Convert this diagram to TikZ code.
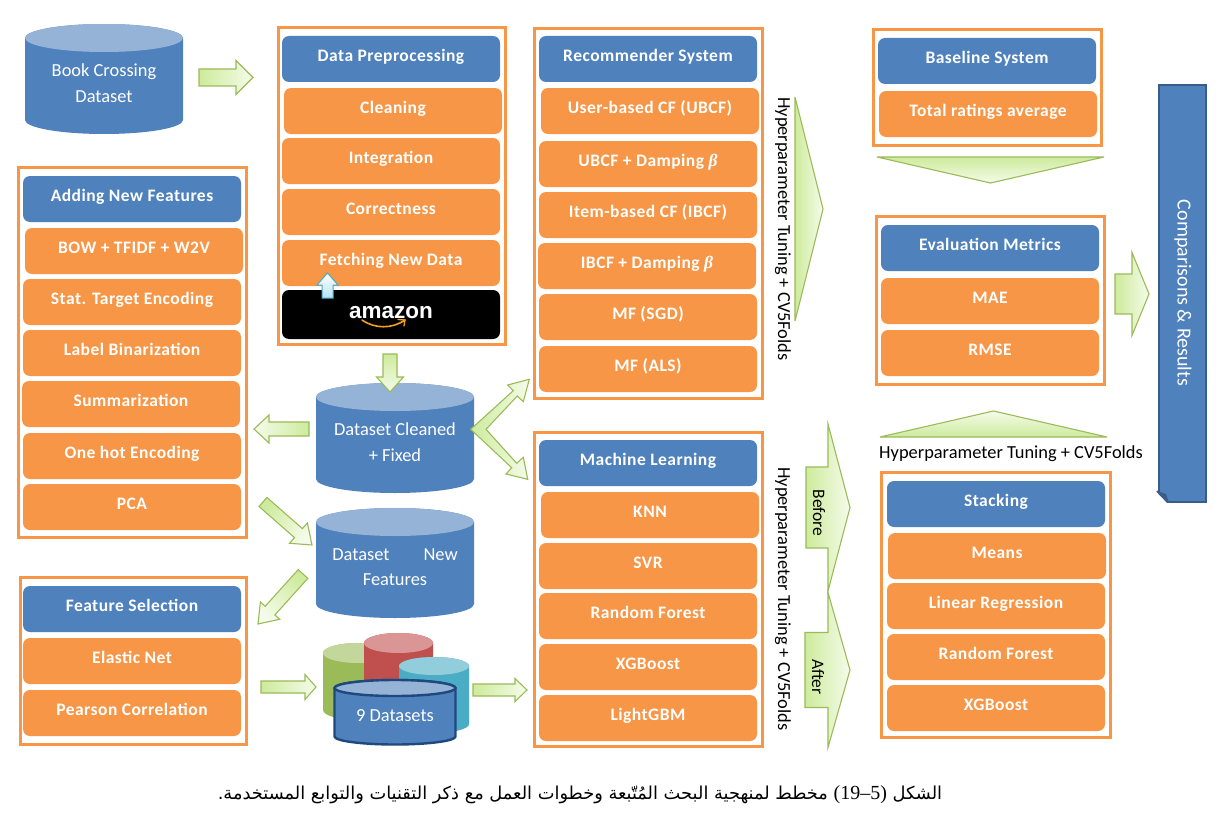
\documentclass[tikz,border=0pt]{standalone}
\usepackage{fontspec}
\usetikzlibrary{calc}
\setmainfont[BoldFeatures={LetterSpace=2.7}]{Carlito}
\newfontfamily\arabicfont[Script=Arabic]{DejaVu Sans}
\newfontfamily\latincap{Liberation Serif}
\newfontfamily\logofont{Liberation Sans}
\newfontfamily\betafont{Liberation Serif}
\TeXXeTstate=1
\definecolor{hd}{HTML}{4F81BD}
\definecolor{it}{HTML}{F79646}
\definecolor{gstroke}{HTML}{9BBB59}
\definecolor{ga}{HTML}{CDEB9C}
\definecolor{gb}{HTML}{F5FBEA}
\definecolor{cyltop}{HTML}{95B3D7}
\definecolor{gbody}{HTML}{9BBB59}
\definecolor{gtop}{HTML}{C3D69B}
\definecolor{rbody}{HTML}{C0504D}
\definecolor{rtop}{HTML}{D99694}
\definecolor{tbody}{HTML}{4BACC6}
\definecolor{ttop}{HTML}{92CDDC}
\definecolor{navy}{HTML}{1F497D}
\definecolor{compline}{HTML}{385D8A}
\definecolor{smile}{HTML}{F5A11C}
\definecolor{upfill}{HTML}{B7E3F0}
\newcommand\bet{{\betafont\bfseries\itshape β}}
\tikzset{
  x=1pt,y=-1pt,
  framebox/.style={draw=it,line width=3pt,fill=white,anchor=north west,inner sep=0pt,outer sep=0pt},
  cardbase/.style={anchor=north west,minimum width=218pt,minimum height=46pt,rounded corners=7pt,
     inner sep=0pt,outer sep=0pt,text=white,font=\bfseries\fontsize{17.5}{18}\selectfont,
     text height=10pt,text depth=5pt},
  headcard/.style={cardbase,fill=hd},
  itemcard/.style={cardbase,fill=it},
  barrow/.style={draw=gstroke,line width=1.1pt,line join=miter,miter limit=8},
  vtext/.style={rotate=-90,font=\fontsize{18.4}{20}\selectfont,inner sep=0pt,text=black},
  cyltext/.style={inner sep=0pt,text=white,align=center,font=\fontsize{18.4}{25.5}\selectfont},
}
% from, to, shaft width, head width, head length
\newcommand\blockarrow[5]{%
  \path let \p1=(#1),\p2=(#2),\n1={atan2(\y2-\y1,\x2-\x1)},\n2={veclen(\x2-\x1,\y2-\y1)} in
    \pgfextra{\pgfmathsetmacro\tmpa{\n1}\pgfmathsetmacro\tmpl{\n2}\global\let\arA\tmpa\global\let\arL\tmpl};
  \pgfmathsetmacro\arB{\arL-#5}
  \pgfmathsetmacro\arAng{\arA+90}
  \begin{scope}[shift={(#1)},rotate=\arA]
    \draw[barrow,top color=ga,bottom color=gb,shading angle=\arAng]
      (0,#3/2)--(\arB,#3/2)--(\arB,#4/2)--(\arL,0)--(\arB,-#4/2)--(\arB,-#3/2)--(0,-#3/2)--cycle;
  \end{scope}}
\newcommand\frm[5]{%
  \pgfmathsetmacro\fw{#4-#2-3}\pgfmathsetmacro\fh{#5-#3-3}\pgfmathsetmacro\fx{#2+1.5}\pgfmathsetmacro\fy{#3+1.5}
  \node[framebox,minimum width=\fw pt,minimum height=\fh pt] (#1) at (\fx,\fy) {};}
% x1,x2,ytop,ybot,ry,bodycolor,topcolor,draw options
\newcommand\cyl[8]{%
  \pgfmathsetmacro\cR{(#2-#1)/2}\pgfmathsetmacro\cc{(#1+#2)/2}\pgfmathsetmacro\cu{#3+#5}\pgfmathsetmacro\cl{#4-#5}
  \path[fill=#6,#8] (#1,\cu) -- (#1,\cl) arc[start angle=180,end angle=360,x radius=\cR pt,y radius=#5pt]
     -- (#2,\cu) arc[start angle=0,end angle=180,x radius=\cR pt,y radius=#5pt] -- cycle;
  \path[fill=#7,#8] (\cc,\cu) ellipse[x radius=\cR pt,y radius=#5pt];}
\begin{document}
\begin{tikzpicture}
\useasboundingbox (0,0) rectangle (1221,816);
\fill[white] (0,0) rectangle (1221,816);

% Book crossing
\cyl{25}{183}{24}{134}{14}{hd}{cyltop}{}
\node[cyltext] (book) at (104,83) {Book Crossing\\Dataset};

% Data preprocessing
\frm{fprep}{277}{26}{507}{346}
\node[headcard] (prep) at (282,36) {Data Preprocessing};
\node[itemcard] (clean) at (284,88) {Cleaning};
\node[itemcard] (integ) at (282,138) {Integration};
\node[itemcard] (corr) at (282,189) {Correctness};
\node[itemcard] (fetch) at (282,240) {Fetching New Data};
\node[cardbase,fill=black,minimum height=49pt,text height=10pt,text depth=3pt,font=\logofont\bfseries\fontsize{22.5}{26}\selectfont] (amz) at (282,290) {amazon};
\coordinate (sm1) at (362,320);\coordinate (sm2) at (405,320);\coordinate (sm3) at (398,319.5);\coordinate (sm4) at (404,326);
\draw[draw=smile,line width=1.6pt,line cap=round] (sm1) .. controls (375,329) and (392,329) .. (sm2);
\draw[draw=smile,line width=1.3pt,line cap=round] (sm3) -- (sm2) -- (sm4);

% Adding new features
\frm{fadd}{17}{166}{248}{539}
\node[headcard] (add) at (23,176) {Adding New Features};
\node[itemcard] (bow) at (25,228) {BOW + TFIDF + W2V};
\node[itemcard] (stat) at (23,279) {Stat. Target Encoding};
\node[itemcard] (label) at (23,330) {Label Binarization};
\node[itemcard] (summ) at (22,381) {Summarization};
\node[itemcard] (ohe) at (23,433) {One hot Encoding};
\node[itemcard] (pca) at (23,484) {PCA};

% Feature selection
\frm{fsel}{19}{576}{248}{746}
\node[headcard] (sel) at (23,586) {Feature Selection};
\node[itemcard] (enet) at (23,638) {Elastic Net};
\node[itemcard] (pear) at (23,690) {Pearson Correlation};

% Recommender
\frm{frec}{533}{27}{764}{400}
\node[headcard] (rec) at (539,36) {Recommender System};
\node[itemcard] (ubcf) at (541,88) {User-based CF (UBCF)};
\node[itemcard] (ubcfd) at (539,141) {UBCF + Damping \bet};
\node[itemcard] (ibcf) at (539,192) {Item-based CF (IBCF)};
\node[itemcard] (ibcfd) at (538,243) {IBCF + Damping \bet};
\node[itemcard] (sgd) at (539,294) {MF (SGD)};
\node[itemcard] (als) at (539,346) {MF (ALS)};

% Machine learning
\frm{fml}{533}{431}{764}{748}
\node[headcard] (ml) at (539,440) {Machine Learning};
\node[itemcard] (knn) at (541,492) {KNN};
\node[itemcard] (svr) at (539,543) {SVR};
\node[itemcard] (rfa) at (539,593) {Random Forest};
\node[itemcard] (xga) at (539,644) {XGBoost};
\node[itemcard] (lgbm) at (539,695) {LightGBM};

% Baseline
\frm{fbase}{872}{28}{1103}{147}
\node[headcard] (base) at (878,38) {Baseline System};
\node[itemcard] (tot) at (879,91) {Total ratings average};

% Evaluation
\frm{feval}{875}{215}{1106}{386}
\node[headcard] (eval) at (881,225) {Evaluation Metrics};
\node[itemcard] (mae) at (881,278) {MAE};
\node[itemcard] (rmse) at (881,330) {RMSE};

% Stacking
\frm{fstack}{880}{471}{1112}{739}
\node[headcard] (stack) at (887,481) {Stacking};
\node[itemcard] (means) at (888,533) {Means};
\node[itemcard] (lin) at (887,583) {Linear Regression};
\node[itemcard] (rfb) at (887,634) {Random Forest};
\node[itemcard] (xgb) at (887,685) {XGBoost};

% Comparisons
\node[fill=hd,draw=compline,line width=2.2pt,minimum width=47pt,minimum height=417pt,inner sep=0pt,anchor=north west] (comp) at (1158,84) {};
\fill[white] (1156.5,491) -- (1156.5,503.5) -- (1169,503.5) -- cycle;
\fill[compline] (1157,491) -- (1169,503) -- (1166,494) -- cycle;
\draw[draw=compline,line width=2pt] (1157,491) -- (1168,502.5);
\node[vtext,text=white,font=\fontsize{20}{24}\selectfont] (comptxt) at (1183,293) {Comparisons \& Results};

% Cylinders
\cyl{316}{474}{383}{493}{14}{hd}{cyltop}{}
\node[cyltext] (dsclean) at (395,442) {Dataset Cleaned\\+ Fixed};
\cyl{316}{474}{508}{618}{14}{hd}{cyltop}{}
\node[cyltext] (dsnew) at (395,567) {Dataset\hspace{34pt}New\\Features};

% nine datasets
\cyl{323}{393}{643}{720}{10}{gbody}{gtop}{}
\cyl{364}{433}{633}{710}{10}{rbody}{rtop}{}
\cyl{399}{469}{657}{733}{9}{tbody}{ttop}{}
\cyl{334.5}{455.5}{680}{744.5}{8}{hd}{cyltop}{draw=navy,line width=2.4pt}
\node[cyltext] (nine) at (395,716) {9 Datasets};

% Block arrows
\coordinate (a1s) at (199,77.5);\coordinate (a1e) at (253,77.5);
\blockarrow{a1s}{a1e}{17}{34}{17}
\coordinate (a2s) at (390,354);\coordinate (a2e) at (390,392);
\blockarrow{a2s}{a2e}{14}{27}{15}
\coordinate (a3s) at (309,429);\coordinate (a3e) at (254,429);
\blockarrow{a3s}{a3e}{14}{28}{15}
\coordinate (a4s) at (263,502);\coordinate (a4e) at (312,545);
\blockarrow{a4s}{a4e}{12}{27}{18}
\coordinate (a5s) at (303,574);\coordinate (a5e) at (258,624);
\blockarrow{a5s}{a5e}{13}{26}{18}
\coordinate (a6s) at (261,687);\coordinate (a6e) at (316,687);
\blockarrow{a6s}{a6e}{12}{25}{11}
\coordinate (a7s) at (473,690);\coordinate (a7e) at (527,690);
\blockarrow{a7s}{a7e}{12}{23}{12}
% double arrow
\coordinate (datip) at (470.7,429.3);\coordinate (dbtip) at (529.3,379.3);\coordinate (dctip) at (527.7,479.3);
\draw[barrow,left color=ga,right color=gb]
  (datip)--(513.3,390.7)--(507.7,385)--(dbtip)--(523.3,401.7)--(517.3,396)--(486,429.3)--(516.7,463.3)--(523.3,457.3)--(dctip)--(506,474)--(511.7,467.7)--cycle;
% triangles
\coordinate (t1s) at (795,209);\coordinate (t1e) at (823,209);
\blockarrow{t1s}{t1e}{0}{224}{28}
\coordinate (t2s) at (990.5,157);\coordinate (t2e) at (990.5,183);
\blockarrow{t2s}{t2e}{0}{227}{26}
\coordinate (t3s) at (993.5,437);\coordinate (t3e) at (993.5,411);
\blockarrow{t3s}{t3e}{0}{227}{26}
% comparisons arrow
\coordinate (c1s) at (1115,294);\coordinate (c1e) at (1149,294);
\blockarrow{c1s}{c1e}{40}{83}{17}
% before / after
\coordinate (b1s) at (806,507.5);\coordinate (b1e) at (850,507.5);
\blockarrow{b1s}{b1e}{81}{167}{22}
\coordinate (b2s) at (805,670);\coordinate (b2e) at (850,670);
\blockarrow{b2s}{b2e}{75}{155}{22}
\node[vtext,font=\fontsize{17.5}{18}\selectfont] (before) at (819,513) {Before};
\node[vtext,font=\fontsize{17.5}{18}\selectfont] (after) at (818,677) {After};
% small up arrow
\coordinate (upe) at (327.5,273);
\draw[draw=tbody,line width=1pt,bottom color=upfill,top color=white]
  (322,298)--(333,298)--(333,285)--(338,285)--(upe)--(317,285)--(322,285)--cycle;

% Labels
\node[vtext] (h1) at (783,229) {Hyperparameter Tuning + CV5Folds};
\node[vtext] (h2) at (783,599) {Hyperparameter Tuning + CV5Folds};
\node[inner sep=0pt,font=\fontsize{18.4}{20}\selectfont,text=black] (h3) at (1011,453.5) {Hyperparameter Tuning + CV5Folds};

% Caption
\node[inner sep=0pt,text=black,font=\arabicfont\fontsize{17.8}{20}\selectfont] (cap) at (580,795)
  {\beginR الشكل \beginL{\latincap\fontsize{20}{20}\selectfont (19–5)}\endL{} مخطط لمنهجية البحث المُتّبعة وخطوات العمل مع ذكر التقنيات والتوابع المستخدمة.\endR};
\end{tikzpicture}
\end{document}
